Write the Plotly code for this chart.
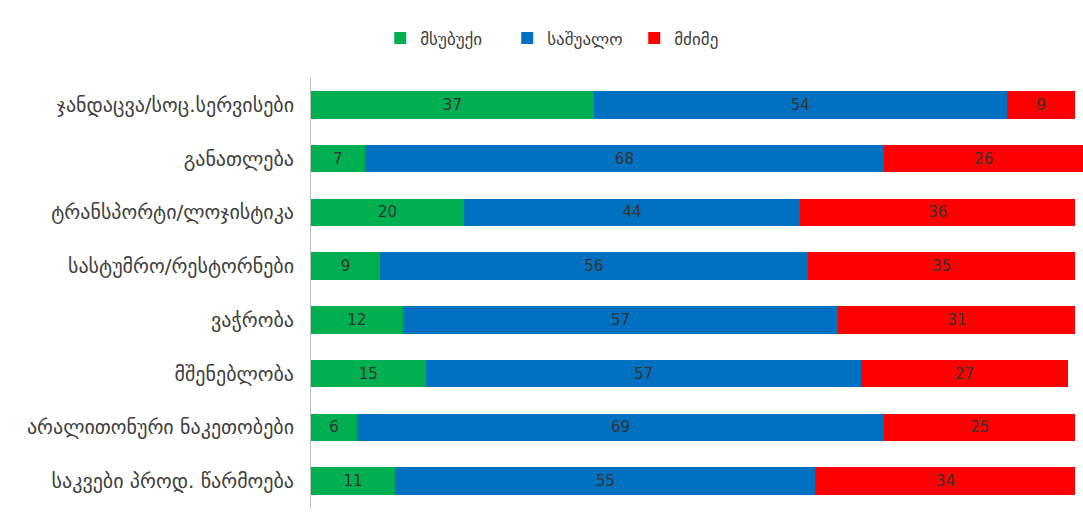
import plotly.graph_objects as go

# Sectors, listed top to bottom
sectors = [
    "ჯანდაცვა/სოც.სერვისები",
    "განათლება",
    "ტრანსპორტი/ლოჯისტიკა",
    "სასტუმრო/რესტორნები",
    "ვაჭრობა",
    "მშენებლობა",
    "არალითონური ნაკეთობები",
    "საკვები პროდ. წარმოება",
]

# Share of responses (%) by severity
light = [37, 7, 20, 9, 12, 15, 6, 11]
medium = [54, 68, 44, 56, 57, 57, 69, 55]
severe = [9, 26, 36, 35, 31, 27, 25, 34]

series = [
    ("მსუბუქი", light, "#00B050"),
    ("საშუალო", medium, "#0070C0"),
    ("მძიმე", severe, "#FF0000"),
]

FONT = "DejaVu Sans"

fig = go.Figure()
for name, vals, color in series:
    fig.add_trace(go.Bar(
        name=name,
        y=sectors,
        x=vals,
        orientation="h",
        marker=dict(color=color, line=dict(width=0)),
        text=[str(v) for v in vals],
        textposition="inside",
        insidetextanchor="middle",
        textfont=dict(family=FONT, size=15, color="#333333"),
        constraintext="none",
    ))

fig.update_layout(
    barmode="stack",
    bargap=0.49,
    width=1083,
    height=514,
    margin=dict(l=311, r=0, t=78, b=6),
    paper_bgcolor="white",
    plot_bgcolor="white",
    font=dict(family=FONT, color="#404040"),
    uniformtext=dict(minsize=8, mode="show"),
    legend=dict(
        orientation="h",
        xref="container",
        yref="container",
        x=0.527,
        y=0.925,
        xanchor="center",
        yanchor="middle",
        font=dict(family=FONT, size=17, color="#404040"),
        itemwidth=30,
        entrywidth=82,
        entrywidthmode="pixels",
        traceorder="normal",
    ),
    showlegend=True,
)

fig.update_xaxes(
    range=[0, 101],
    visible=False,
    showgrid=False,
    zeroline=False,
)

fig.update_yaxes(
    autorange="reversed",
    showline=True,
    linecolor="#BFBFBF",
    linewidth=1,
    ticks="",
    showgrid=False,
    tickfont=dict(family=FONT, size=20, color="#404040"),
    ticklabelstandoff=12,
)

fig.write_html("out.html")
